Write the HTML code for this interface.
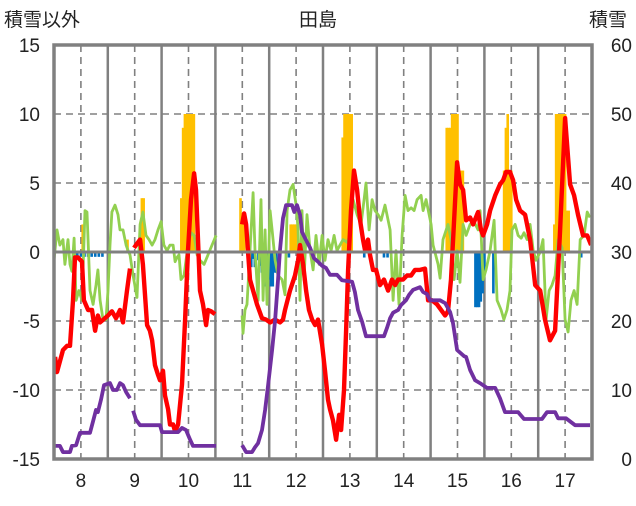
<!DOCTYPE html>
<html><head><meta charset="utf-8"><style>
body{margin:0;background:#fff;}
svg text{font-family:"Liberation Sans","Noto Sans CJK JP",sans-serif;fill:#222;}
</style></head><body>
<svg id="chart" width="636" height="501" viewBox="0 0 636 501" xmlns="http://www.w3.org/2000/svg">
<text x="4" y="26" font-size="19">積雪以外</text>
<text x="318" y="26" font-size="19" text-anchor="middle">田島</text>
<text x="589" y="26" font-size="19">積雪</text>
<g id="grid"></g><g id="bars"></g><g id="lines"></g><g id="frame"></g><g id="labels"></g>
</svg>
<script>
// x: days since mid-July (30-day months), month label k at day 15+(k-8)*30
const monthLabels=["8","9","10","11","12","13","14","15","16","17"];
const leftTicks=[15,10,5,0,-5,-10,-15];
const rightTicks=[60,50,40,30,20,10,0];
const redDays=[0.6,1.7,5,7.3,8.9,10.6,11.7,13.4,15.6,16.7,19,21.2,22.9,24.5,25.7,30.1,32.3,34.6,36.8,38.5,40.7,42.4,null,44.6,46.3,48,49.6,51.9,53.5,54.7,56.3,58,59.1,60.8,61.9,63.6,64.7,66.4,67.5,69.2,71.4,73.1,74.7,76.4,78.1,79.2,80.3,81.4,83.1,84.8,85.9,87.6,89.8,null,104.9,106,107.1,109.3,113.2,116,118.2,120.5,123.3,126,127.7,128.8,131.6,134.4,136.1,137.2,138.9,140.6,142.2,143.9,145.6,147.2,149.5,151.1,152.8,153.9,155.6,157.3,159,160.1,161.7,162.9,164,165.6,167.3,169,170.7,172.3,173.5,175.1,176.2,177.9,179.6,181.8,184,186.3,188.5,190.2,191.9,194.6,196.9,199.1,201.3,204.1,206.9,208.6,210.8,213.6,216.4,218.1,219.7,221.4,223.1,224.8,226.4,228.1,229.8,232,233.7,236.5,238.1,239.3,241.5,243.2,246,248.7,250.4,252.1,254.3,256,257.7,259.9,262.7,265.5,268.3,271.1,273.8,276.6,279.4,282.2,285,287.8,290,292.2,295,297.3,299.5];
const redValues=[-7.6,-8.7,-7.1,-6.8,-6.8,-3.5,-0.4,-0.4,-0.7,-3.5,-4.2,-4.2,-5.7,-4.6,-5.1,-4.6,-4.3,-4.8,-4.2,-5.1,-2.8,-1.2,null,0.3,0.6,0.9,-0.9,-5.3,-5.7,-6.4,-8.2,-8.9,-9.3,-8.6,-10.4,-11.4,-12.5,-12.5,-13,-12.5,-9.6,-4.9,0.1,3.8,5.7,4.5,0.9,-2.8,-3.8,-5.3,-4.2,-4.3,-4.5,null,2,2.8,2,-2,-3.8,-4.8,-4.9,-5.1,-4.9,-5.1,-4.9,-4.2,-2.8,-1.7,-0.6,0.5,-0.9,-2.8,-4.2,-4.9,-5.3,-4.9,-6.7,-8.6,-10.7,-11.4,-12.2,-13.6,-11.8,-12.9,-10,-5.7,-1.3,3,5.9,4.5,2.3,0.9,0.1,0.9,-0.2,-1.3,-1.3,-2.4,-2,-2.8,-2,-2.4,-2,-2,-1.7,-1.7,-1.3,-1.3,-1.2,-3.5,-3.5,-3.8,-4.3,-4.6,-4.3,-2,2.3,6.5,4.9,4.5,2.3,2.5,2,2.9,1.6,1.2,2,3,4.1,4.9,5.2,5.8,5.8,5.2,3.8,3,2.7,0.9,-2.4,-2.8,-4.9,-6.4,-5.7,1.6,9.7,4.9,4.1,2.7,1.2,1.2,0.5];
const greenDays=[0,1.7,3.3,5,6.1,7.8,8.9,10,11.2,12.3,13.9,15.6,17.3,18.4,20.1,21.8,23.4,24.5,25.7,27.3,29,30.1,31.2,32.3,34,35.7,36.8,38.5,40.2,41.3,42.4,44.1,46.3,48,49.6,51.3,53,54.7,56.3,58,59.7,61.3,63,64.7,66.4,67.5,68.6,69.7,70.8,72.5,74.7,76.4,78.1,79.8,81.4,83.7,85.9,88.1,90.4,null,104.9,105.4,106.5,107.6,109.3,111,112.1,113.8,115.4,116.6,117.7,118.8,120.5,121.6,123.3,124.9,127.2,128.8,130,131.6,133.3,135,136.1,137.2,138.3,139.4,141.1,142.8,144.5,146.1,147.8,149.5,151.1,152.8,154.5,156.2,157.8,159.5,161.2,163.4,165.1,166.8,169,171.2,172.9,174,175.7,177.4,179,180.7,182.4,184.6,187.4,189.1,190.7,192.4,194.1,195.8,197.4,199.1,200.8,202.5,204.7,205.8,207.5,210.3,211.4,214.2,215.3,216.9,219.7,221.4,223.1,224.8,226.4,228.1,229.8,232,234.2,236.5,237.6,239.3,240.9,243.2,245.4,247.1,249.3,250.9,252.6,254.3,255.4,257.1,258.8,260.5,262.1,263.8,265.5,267.2,268.8,271.1,272.7,274.4,276.1,277.7,279.4,281.1,283.3,285,286.7,288.3,290,291.7,293.4,295.6,297.3,298.9];
const greenValues=[-0.6,1.6,0.5,0.9,-0.9,0.9,-0.9,-1.4,1,-3.5,-2.8,-3.5,3,2.9,-2.8,-3.8,-2.4,-1.3,-3.5,-4.9,-4.9,-2.8,0.5,2.9,3.4,2.7,1.6,1.6,0.5,0.1,-0.2,-1.7,-3.3,2,2.9,1.2,0.9,0.5,0.9,1.6,2.2,0.5,0.1,0.5,0.5,-0.7,-0.4,-0.2,-2,-1.7,0.5,1.4,1.2,-0.2,-0.6,-0.9,-0.2,0.5,1.2,null,-4.6,-5.9,-4.2,-3.8,0.1,4.3,0.1,-3.5,3.8,-3.5,1.6,-3.8,3,1.6,-0.6,-1.7,-2,-3.1,3,4.5,4.9,3.4,1.6,-3.5,3,-2,2.7,0.1,-1.3,1.2,-0.9,1.2,-0.6,0.9,0.1,1.2,0.1,0.5,0.9,0.7,1.2,3.8,2.7,2,3.8,5,1.6,3.8,3,2.7,2.3,3.4,1.6,-3.5,0.1,-3.8,1.2,4.1,3,3.2,3,3.8,4.1,3,3.8,2,0.5,-0.9,-1.9,0.9,2,0.9,-2,0.1,-2.2,2,1.2,2,2.2,1.6,3,-2,-1.3,0.1,2.3,-3.5,-4.2,-4.9,-4.2,-2.8,1.6,2,1.2,1,1.4,0.9,2,0.1,-0.6,0,0.9,-4.9,-2.8,-2.4,-1.7,0.9,0.3,-4.9,-5.8,-3.5,-2.8,-3.8,0.9,1.2,2.9,2.5];
const snowDays=[0,3.3,5,8.9,10,12.3,14.5,20.1,21.8,23.4,24.5,26.2,27.9,31.2,32.9,35.1,36.8,38.5,40.2,42.4,null,44.1,45.7,48,59.1,60.2,69.2,71.4,73.6,75.9,77.5,90.4,null,104.9,107.1,110.4,112.1,113.8,116,117.7,119.4,121.6,123.3,124.9,126,127.7,129.4,132.7,134,135.5,137.2,138.3,140.6,142.8,145,147.2,149.5,151.7,153.9,157.8,160.6,166.2,167.8,169.5,171.8,174,184,185.7,187.4,189.1,191.9,193.5,196.3,198,200.2,204.1,205.8,208,209.7,215.3,218.1,220.9,222.5,224.8,228.7,229.8,232,234.8,238.1,241.5,246,248.7,251.5,258.8,262.1,272.1,274.9,279.4,281.1,285.5,290.6,298.9];
const snowValues=[1.9,1.9,1,1,1.9,2,3.8,3.8,5.5,7.1,6.8,8.6,10.7,11,10,10,11,10.7,9.7,8.8,null,7,5.7,4.9,4.9,3.9,3.9,4.5,4.2,2.8,1.9,1.9,null,2,1,1,1.7,2.3,4.2,7.1,10.7,15.8,20.1,25.9,30.3,34.9,36.8,36.8,35.8,36.8,35.4,32.9,31.7,30.6,29.1,28.6,28,27.7,26.7,26.7,25.9,25.7,24.2,21.6,19.9,17.8,17.8,19,20.4,21.2,21.6,22.3,23,23.8,24.5,24.9,24.2,23.9,23,23,22.6,21.3,19.7,15.8,14.9,14.8,12.9,11.4,10.9,10.3,10.3,8.8,6.8,6.8,5.8,5.8,6.8,6.8,5.9,5.9,4.9,4.9];
const posBarDays=[16,41,49,50,71,72,73,74,75,76,77,78,104,105,106,132,133,134,135,161,162,163,164,165,166,219,220,221,222,223,224,225,226,227,228,251,252,253,254,255,279,280,281,282,283,284,285,286,287];
const posBarValues=[2,0.9,3.9,3.9,3.9,9,10,10,10,10,10,10,3.9,2.8,2.8,2,2,2,2,8.3,10,10,10,10,10,9,9,9,10,10,10,10,5.9,5.9,5.9,5.9,9,10,5.9,5.9,2,10,10,10,10,10,10,3,3];
const negBarDays=[13,15,17,19,21,23,25,27,110,111,112,114,115,116,117,118,119,120,121,122,123,124,131,173,184,186,235,236,237,238,239,240,245,294];
const negBarValues=[-0.35,-0.35,-0.35,-0.35,-0.35,-0.35,-0.35,-0.35,-1.1,-0.5,-1.1,-0.6,-1,-1.5,-1.5,-2.5,-2,-2,-2.5,-2.5,-1.5,-1.5,-0.4,-0.4,-0.4,-0.4,-4,-4,-4,-3.6,-3,-1.5,-3,-0.4];

const X0=54,X1=592,Y0=45,Y1=459;
const xs=d=>X0+d*(X1-X0)/300;
const yL=v=>252-v*13.8;
const yR=v=>Y1-v*(Y1-Y0)/60;
const NS="http://www.w3.org/2000/svg";
function mk(tag,attrs,parent){const e=document.createElementNS(NS,tag);for(const k in attrs)e.setAttribute(k,attrs[k]);document.getElementById(parent).appendChild(e);return e;}

monthLabels.forEach((m,i)=>{
  const x=xs(15+i*30);
  const g=mk('line',{x1:x,x2:x,y1:Y0,y2:Y1,stroke:'#808080','stroke-width':1.6,'stroke-dasharray':'7,5'},'grid');
  
  
  if(i<9){const x2=xs(30+i*30);
    const s=mk('line',{x1:x2,x2:x2,y1:Y0,y2:Y1,stroke:'#808080','stroke-width':2.5},'grid');
    
    }
  const t=mk('text',{x:x,y:487,'font-size':19,'text-anchor':'middle'},'labels');
  t.textContent=m;
  
  
});
leftTicks.forEach(v=>{
  const y=yL(v);
  if(v!==15&&v!==-15&&v!==0){const l=mk('line',{x1:X0,x2:X1,y1:y,y2:y,stroke:'#808080','stroke-width':1.6,'stroke-dasharray':'7,5'},'grid');
    
    }
  const t=mk('text',{x:40,y:y+7,'font-size':19,'text-anchor':'end'},'labels');
  t.textContent=v;
  
  
});
rightTicks.forEach(v=>{
  const t=mk('text',{x:632,y:yR(v)+7,'font-size':19,'text-anchor':'end'},'labels');
  t.textContent=v;
  
  
});
posBarDays.forEach((d,i)=>{
  const v=Math.min(posBarValues[i],15);
  const r=mk('rect',{x:xs(d)-1.3,y:yL(v),width:2.6,height:yL(0)-yL(v),fill:'#ffc000'},'bars');
  
  
});
negBarDays.forEach((d,i)=>{
  const v=negBarValues[i];
  const r=mk('rect',{x:xs(d)-1.3,y:yL(0),width:2.6,height:yL(v)-yL(0),fill:'#0070c0'},'bars');
  
  
});
function path(days,vals,yf){let d='',pen=false;days.forEach((x,i)=>{if(x===null||vals[i]===null){pen=false;return;}d+=(pen?'L':'M')+xs(x).toFixed(1)+','+yf(vals[i]).toFixed(1);pen=true;});return d;}
const gp=mk('path',{d:path(greenDays,greenValues,yL),fill:'none',stroke:'#92d050','stroke-width':2.8,'stroke-linejoin':'round'},'lines');


const rp=mk('path',{d:path(redDays,redValues,yL),fill:'none',stroke:'#ff0000','stroke-width':4.4,'stroke-linejoin':'round'},'lines');


const pp=mk('path',{d:path(snowDays,snowValues,yR),fill:'none',stroke:'#7030a0','stroke-width':3.8,'stroke-linejoin':'round'},'lines');


const z=mk('line',{x1:X0,x2:X1,y1:yL(0),y2:yL(0),stroke:'#808080','stroke-width':3},'frame');


const f=mk('rect',{x:X0,y:Y0,width:X1-X0,height:Y1-Y0,fill:'none',stroke:'#808080','stroke-width':3.5},'frame');


</script>
</body></html>
